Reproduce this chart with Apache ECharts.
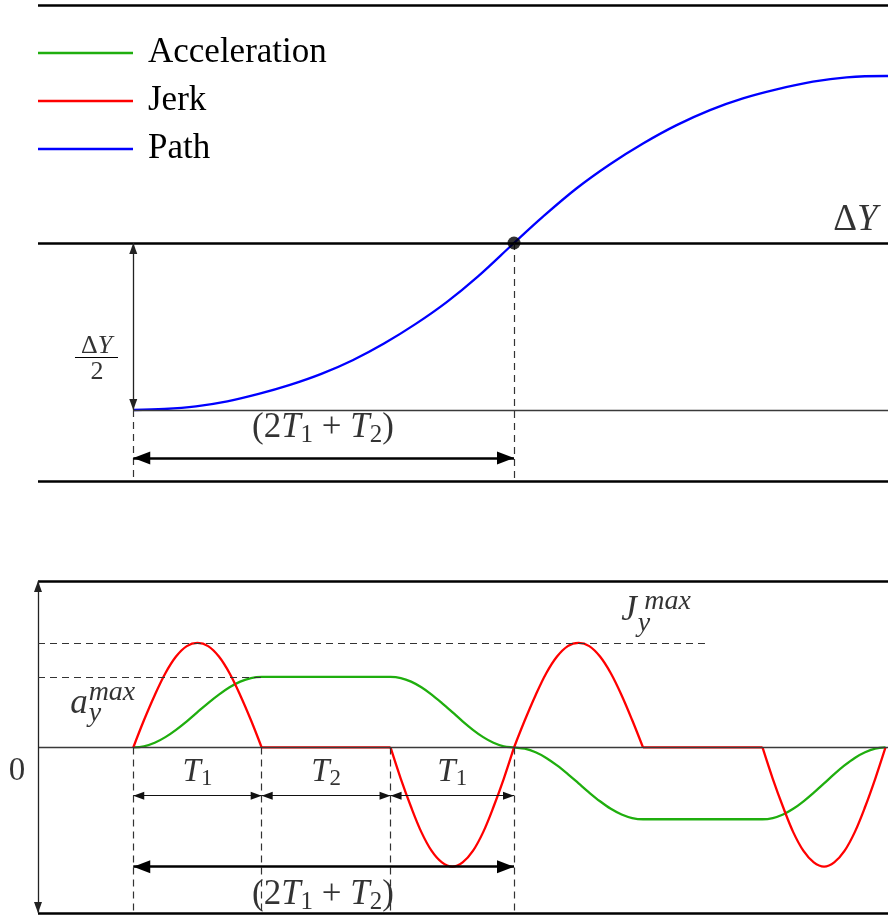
<!DOCTYPE html>
<html>
<head>
<meta charset="utf-8">
<script src="https://cdn.jsdelivr.net/npm/echarts@6/dist/echarts.min.js"></script>
<style>
  html, body { margin: 0; padding: 0; background: #fff; }
  #chart { width: 888px; height: 920px; }
</style>
</head>
<body>
<div id="chart"></div>
<script>
// ---- Jerk-limited motion profile (time in units of T) ----
// Phase boundaries: T1 | T2 | T1 | T1 | T2 | T1
const phaseEdges = [0, 1.024, 2.052, 3.037, 4.066, 5.019, 6.0];

// Sample times shared by jerk and acceleration
const sampleTimes = [
  0, 0.085, 0.171, 0.256, 0.341, 0.427, 0.512, 0.597, 0.683, 0.768, 0.853, 0.939, 1.024,
  2.052,
  2.134, 2.216, 2.298, 2.38, 2.462, 2.545, 2.627, 2.709, 2.791, 2.873, 2.955, 3.037,
  3.123, 3.209, 3.294, 3.38, 3.466, 3.552, 3.637, 3.723, 3.809, 3.895, 3.98, 4.066,
  5.019,
  5.101, 5.183, 5.264, 5.346, 5.428, 5.51, 5.591, 5.673, 5.755, 5.837, 5.918, 6.0
];
// index in sampleTimes where each phase starts / ends
const phaseIndex = [0, 12, 13, 25, 37, 38, 50];

const jerkValues = [
  0, 0.26, 0.5, 0.71, 0.87, 0.97, 1, 0.97, 0.87, 0.71, 0.5, 0.26, 0,
  0,
  -0.3, -0.57, -0.81, -0.99, -1.1, -1.14, -1.1, -0.99, -0.81, -0.57, -0.3, 0,
  0.26, 0.5, 0.71, 0.87, 0.97, 1, 0.97, 0.87, 0.71, 0.5, 0.26, 0,
  0,
  -0.3, -0.57, -0.81, -0.99, -1.1, -1.14, -1.1, -0.99, -0.81, -0.57, -0.3, 0
];

const accelValues = [
  0, 0.011, 0.045, 0.099, 0.169, 0.25, 0.338, 0.425, 0.506, 0.576, 0.63, 0.664, 0.675,
  0.675,
  0.664, 0.63, 0.576, 0.506, 0.425, 0.338, 0.25, 0.169, 0.099, 0.045, 0.011, 0,
  -0.012, -0.046, -0.1, -0.172, -0.255, -0.344, -0.432, -0.515, -0.587, -0.641, -0.675, -0.687,
  -0.687,
  -0.675, -0.641, -0.587, -0.515, -0.432, -0.344, -0.255, -0.172, -0.1, -0.046, -0.012, 0
];

// Path, normalised to the total travel ΔY
const pathTimes = [0, 0.25, 0.5, 0.75, 1.0, 1.25, 1.5, 1.75, 2.0, 2.25, 2.5, 2.75,
  3.037, 3.268, 3.537, 3.803, 4.066, 4.334, 4.6, 4.863, 5.132, 5.421, 5.69, 6.0, 6.02];
const pathValues = [0, 0.003, 0.011, 0.026, 0.048, 0.075, 0.108, 0.149, 0.199, 0.257, 0.323, 0.4,
  0.5, 0.579, 0.664, 0.736, 0.798, 0.853, 0.898, 0.933, 0.96, 0.983, 0.996, 1.0, 1.0];

const jerkMax = 1.0;
const accelMax = 0.675;
const halfTravel = 0.5;
const legendNames = ['Acceleration', 'Jerk', 'Path'];

// ---- view ranges ----
const xMin = -0.76, xMax = 6.02;
const topYMin = -0.2126, topYMax = 1.2126;
const botYMin = -1.584, botYMax = 1.593;

const SERIF = 'Liberation Serif';
const BLACK = '#000';
const GREY = '#3a3a3a';
// arrow head whose tip sits at the symbol centre
const HEAD = 'path://M5,0 M5,10 L10,20 L0,20 Z';
const thinHead = [8, 22];
const thickHead = [13, 34];

const solidThick = { color: BLACK, width: 2.6, type: 'solid' };
const solidThin = { color: GREY, width: 1.4, type: 'solid' };
const arrowGrey = { color: '#222', width: 1.3, type: 'solid' };
const arrowThin = { color: '#111', width: 1.2, type: 'solid' };
const dashed = { color: '#333', width: 1.2, type: [7, 5] };

function seg(x1, y1, x2, y2, style, head, size) {
  return [
    { coord: [x1, y1], lineStyle: style, symbol: head ? HEAD : 'none', symbolSize: size || thinHead },
    { coord: [x2, y2], symbol: head ? HEAD : 'none', symbolSize: size || thinHead }
  ];
}

const pairs = (xs, ys) => xs.map((x, i) => [x, ys[i]]);
// jerk is drawn phase by phase (gaps between phases) so each hump keeps sharp corners
function phasePieces(xs, ys) {
  const out = [];
  for (let p = 0; p < phaseIndex.length - 1; p++) {
    if (p > 0) out.push(null);
    for (let i = phaseIndex[p]; i <= phaseIndex[p + 1]; i++) out.push([xs[i], ys[i]]);
  }
  return out;
}
const e = phaseEdges;

const rich = {
  n: { fontFamily: SERIF, fontSize: 33, color: BLACK },
  it: { fontFamily: SERIF, fontSize: 33, fontStyle: 'italic', color: BLACK },
  s: { fontFamily: SERIF, fontSize: 23, color: BLACK, padding: [14, 0, 0, 0] },
  bn: { fontFamily: SERIF, fontSize: 35, color: BLACK },
  bi: { fontFamily: SERIF, fontSize: 35, fontStyle: 'italic', color: BLACK },
  bs: { fontFamily: SERIF, fontSize: 25, color: BLACK, padding: [15, 0, 0, 0] },
  sc: { fontFamily: SERIF, fontSize: 28, fontStyle: 'italic', color: BLACK },
  dn: { fontFamily: SERIF, fontSize: 37, color: BLACK },
  di: { fontFamily: SERIF, fontSize: 37, fontStyle: 'italic', color: BLACK },
  fn: { fontFamily: SERIF, fontSize: 26, color: BLACK },
  fi: { fontFamily: SERIF, fontSize: 26, fontStyle: 'italic', color: BLACK }
};
const sumLabel = '{bn|(2}{bi|T}{bs|1}{bn| + }{bi|T}{bs|2}{bn|)}';
const labelBase = {
  show: true, position: 'inside', color: BLACK,
  textBorderWidth: 0, textBorderColor: 'transparent', rich: rich
};

function label(x, y, text, extra) {
  return { value: [x, y], label: Object.assign({ formatter: text }, extra || {}) };
}

const option = {
  animation: false,
  backgroundColor: '#fff',
  grid: [
    { left: 38, right: 0, top: 5, height: 476, containLabel: false },
    { left: 38, right: 0, top: 581, height: 332, containLabel: false }
  ],
  xAxis: [
    { type: 'value', gridIndex: 0, min: xMin, max: xMax, show: false },
    { type: 'value', gridIndex: 1, min: xMin, max: xMax, show: false }
  ],
  yAxis: [
    { type: 'value', gridIndex: 0, min: topYMin, max: topYMax, show: false },
    { type: 'value', gridIndex: 1, min: botYMin, max: botYMax, show: false }
  ],
  legend: {
    data: legendNames,
    orient: 'vertical',
    left: 38,
    top: 29,
    padding: 0,
    itemGap: 0,
    icon: 'rect',
    itemWidth: 95,
    itemHeight: 2.5,
    selectedMode: false,
    textStyle: { fontFamily: SERIF, fontSize: 35, color: BLACK, lineHeight: 48, padding: [0, 0, 0, 10] }
  },
  series: [
    // ---------- upper panel: annotations ----------
    {
      type: 'scatter',
      name: 'upperMarks',
      xAxisIndex: 0, yAxisIndex: 0,
      z: 1,
      clip: false,
      symbolSize: 0,
      silent: true,
      itemStyle: { color: BLACK },
      label: labelBase,
      data: [
        label(1.513, -0.054, sumLabel),
        label(5.76, 0.569, '{dn|Δ}{di|Y}'),
        label(-0.292, 0.192, '{fn|Δ}{fi|Y}'),
        label(-0.289, 0.112, '{fn|2}')
      ],
      markLine: {
        silent: true,
        animation: false,
        symbol: ['none', 'none'],
        label: { show: false },
        data: [
          seg(xMin, topYMax, xMax, topYMax, solidThick),
          seg(xMin, topYMin, xMax, topYMin, solidThick),
          seg(xMin, halfTravel, xMax, halfTravel, solidThick),
          seg(e[0], 0, xMax, 0, solidThin),
          seg(e[0], 0, e[0], halfTravel, arrowGrey, true),
          seg(e[0], 0, e[0], topYMin, dashed),
          seg(e[3], halfTravel, e[3], topYMin, dashed),
          seg(e[0], -0.1437, e[3], -0.1437, solidThick, true, thickHead),
          seg(-0.465, 0.157, -0.122, 0.157, { color: BLACK, width: 1.2, type: 'solid' })
        ]
      }
    },
    {
      type: 'line',
      name: 'Path',
      xAxisIndex: 0, yAxisIndex: 0,
      z: 3,
      color: '#0000ff',
      itemStyle: { color: '#0000ff' },
      lineStyle: { color: '#0000ff', width: 2.3 },
      showSymbol: false,
      smooth: 0.35,
      data: pairs(pathTimes, pathValues)
    },
    {
      type: 'scatter',
      name: 'midpoint',
      xAxisIndex: 0, yAxisIndex: 0,
      z: 5,
      symbolSize: 13,
      itemStyle: { color: BLACK },
      data: [[e[3], halfTravel]]
    },
    // ---------- lower panel: annotations ----------
    {
      type: 'scatter',
      name: 'lowerMarks',
      xAxisIndex: 1, yAxisIndex: 1,
      z: 1,
      clip: false,
      symbolSize: 0,
      silent: true,
      itemStyle: { color: BLACK },
      label: labelBase,
      data: [
        label((e[0] + e[1]) / 2, -0.234, '{it|T}{s|1}'),
        label((e[1] + e[2]) / 2, -0.234, '{it|T}{s|2}'),
        label((e[2] + e[3]) / 2, -0.234, '{it|T}{s|1}'),
        label(1.513, -1.411, sumLabel),
        label(xMin, 0, '{n|0}', { offset: [-21, 24] }),
        label(3.955, 1.306, '{bi|J}'),
        label(4.262, 1.4, '{sc|max}'),
        label(4.074, 1.182, '{sc|y}'),
        label(-0.433, 0.416, '{bi|a}'),
        label(-0.17, 0.527, '{sc|max}'),
        label(-0.305, 0.321, '{sc|y}')
      ],
      markLine: {
        silent: true,
        animation: false,
        symbol: ['none', 'none'],
        label: { show: false },
        data: [
          seg(xMin, botYMax, xMax, botYMax, solidThick),
          seg(xMin, botYMin, xMax, botYMin, solidThick),
          seg(xMin, 0, xMax, 0, solidThin),
          seg(xMin, botYMin, xMin, botYMax, arrowGrey, true),
          seg(xMin, jerkMax, 4.56, jerkMax, dashed),
          seg(xMin, accelMax, e[1], accelMax, dashed),
          seg(e[0], 0, e[0], botYMin, dashed),
          seg(e[1], 0, e[1], botYMin, dashed),
          seg(e[2], 0, e[2], botYMin, dashed),
          seg(e[3], 0, e[3], botYMin, dashed),
          seg(e[0], -0.461, e[1], -0.461, arrowThin, true),
          seg(e[1], -0.461, e[2], -0.461, arrowThin, true),
          seg(e[2], -0.461, e[3], -0.461, arrowThin, true),
          seg(e[0], -1.141, e[3], -1.141, solidThick, true, thickHead)
        ]
      }
    },
    {
      type: 'line',
      name: 'Acceleration',
      xAxisIndex: 1, yAxisIndex: 1,
      z: 3,
      color: '#1fae0e',
      itemStyle: { color: '#1fae0e' },
      lineStyle: { color: '#1fae0e', width: 2.3 },
      showSymbol: false,
      smooth: 0.35,
      data: pairs(sampleTimes, accelValues)
    },
    {
      type: 'line',
      name: 'Jerk',
      xAxisIndex: 1, yAxisIndex: 1,
      z: 4,
      color: '#ff0000',
      itemStyle: { color: '#ff0000' },
      lineStyle: { color: '#ff0000', width: 2.3, join: 'round' },
      showSymbol: false,
      connectNulls: false,
      smooth: 0.35,
      data: phasePieces(sampleTimes, jerkValues)
    }
  ]
};

const chart = echarts.init(document.getElementById('chart'), null, { renderer: 'canvas' });
chart.setOption(option);
</script>
</body>
</html>
